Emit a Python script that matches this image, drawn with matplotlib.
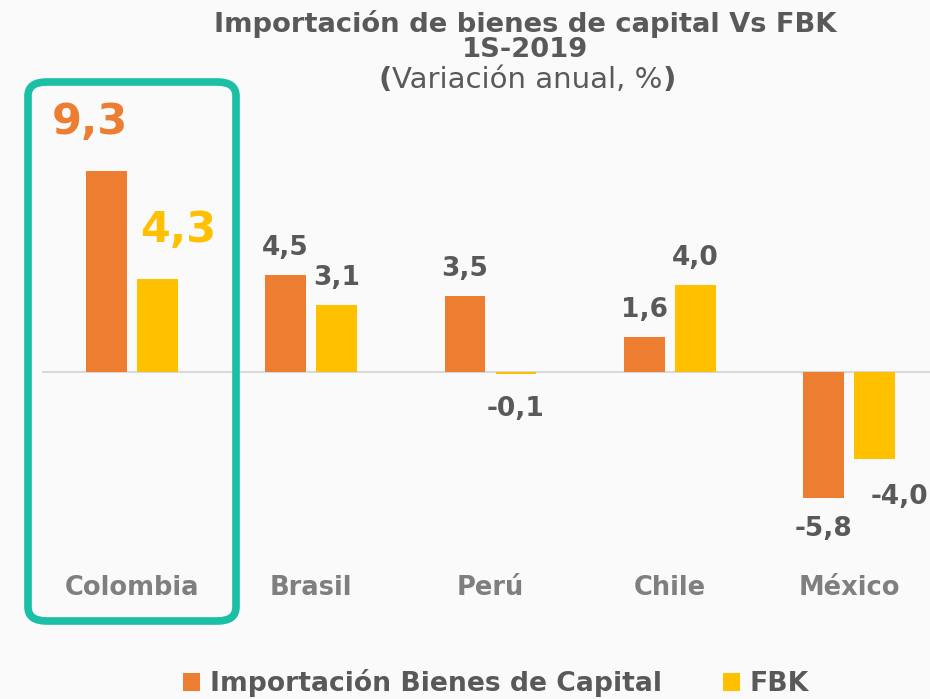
import matplotlib.pyplot as plt
from matplotlib.patches import FancyBboxPatch
import numpy as np

# ---- DATA ---- #
paises = ["Colombia", "Brasil", "Perú", "Chile", "México"]
importacion = [9.3, 4.5, 3.5, 1.6, -5.8]
fbk = [4.3, 3.1, -0.1, 4.0, -4.0]

# ---- STYLE ---- #
plt.rcParams["font.family"] = ["DejaVu Sans"]
ORANGE = "#ED7D31"
YELLOW = "#FFC000"
GRAY = "#595959"
BG = "#FAFAFA"

fig = plt.figure(figsize=(9.3, 6.99), dpi=100, facecolor=BG)
ax = fig.add_axes([42 / 930, (699 - 560) / 699, 888 / 930, 450 / 699])
ax.set_facecolor(BG)

x = np.arange(len(paises))
w = 0.228
off = 0.142
ax.bar(x - off, importacion, w, color=ORANGE, label="Importación Bienes de Capital")
ax.bar(x + off, fbk, w, color=YELLOW, label="FBK")
ax.axhline(0, color="#D9D9D9", lw=1.5, zorder=0)

ax.set_xlim(-0.5, 4.45)
ax.set_ylim(-8.68, 12.1)
for s in ax.spines.values():
    s.set_visible(False)
ax.set_yticks([])
ax.set_xticks([])

# category labels
for i, p in enumerate(paises):
    ax.text(i, -9.95, p, ha="center", va="center", fontsize=18.5, fontweight="bold",
            color="#7F7F7F", clip_on=False)

# ---- DATA LABELS ---- #
def etiqueta(xv, v, color, size, dx=0, dy=None):
    if dy is None:
        dy = 14 if v >= 0 else -22
    ax.annotate(f"{v:.1f}".replace(".", ","), (xv, v), xytext=(dx, dy),
                textcoords="offset pixels", ha="center",
                va="bottom" if dy > 0 else "top",
                fontsize=size, fontweight="bold", color=color, annotation_clip=False)

for i in range(len(paises)):
    if i == 0:
        etiqueta(i - off, importacion[i], ORANGE, 31, dx=-16, dy=28)
        etiqueta(i + off, fbk[i], YELLOW, 31, dx=21, dy=28)
    elif importacion[i] < -1:
        etiqueta(i - off, importacion[i], GRAY, 19, dy=-18)
        etiqueta(i + off, fbk[i], GRAY, 19, dx=25, dy=-25)
    else:
        etiqueta(i - off, importacion[i], GRAY, 19)
        etiqueta(i + off, fbk[i], GRAY, 19)

# ---- TITLE ---- #
fig.text(525 / 930, 1 - 24 / 699, "Importación de bienes de capital Vs FBK",
         ha="center", va="center", fontsize=19.7, fontweight="bold", color=GRAY)
fig.text(525 / 930, 1 - 50 / 699, "1S-2019",
         ha="center", va="center", fontsize=19.7, fontweight="bold", color=GRAY)
sub = fig.text(527 / 930, 1 - 80 / 699, "Variación anual, %",
               ha="center", va="center", fontsize=21, color=GRAY)
ax.annotate("(", xy=(0, 0.5), xycoords=sub, ha="right", va="center",
            fontsize=21, fontweight="bold", color=GRAY, annotation_clip=False)
ax.annotate(")", xy=(1, 0.5), xycoords=sub, ha="left", va="center",
            fontsize=21, fontweight="bold", color=GRAY, annotation_clip=False)

# ---- HIGHLIGHT BOX ---- #
box = FancyBboxPatch((28 / 930, 1 - 621 / 699), 208 / 930, 539 / 699,
                     boxstyle="round,pad=0,rounding_size=0.02",
                     transform=fig.transFigure, fill=False,
                     edgecolor="#1ABFA5", lw=5.5)
fig.patches.append(box)

# ---- LEGEND ---- #
fig.legend(loc="center", bbox_to_anchor=(496 / 930, 1 - 683 / 699), ncol=2,
           frameon=False, handlelength=0.65, handleheight=0.65, handletextpad=0.35,
           columnspacing=2.3, prop={"weight": "bold", "size": 19.2}, labelcolor=GRAY)

plt.savefig("out.png", dpi=100, facecolor=BG)
